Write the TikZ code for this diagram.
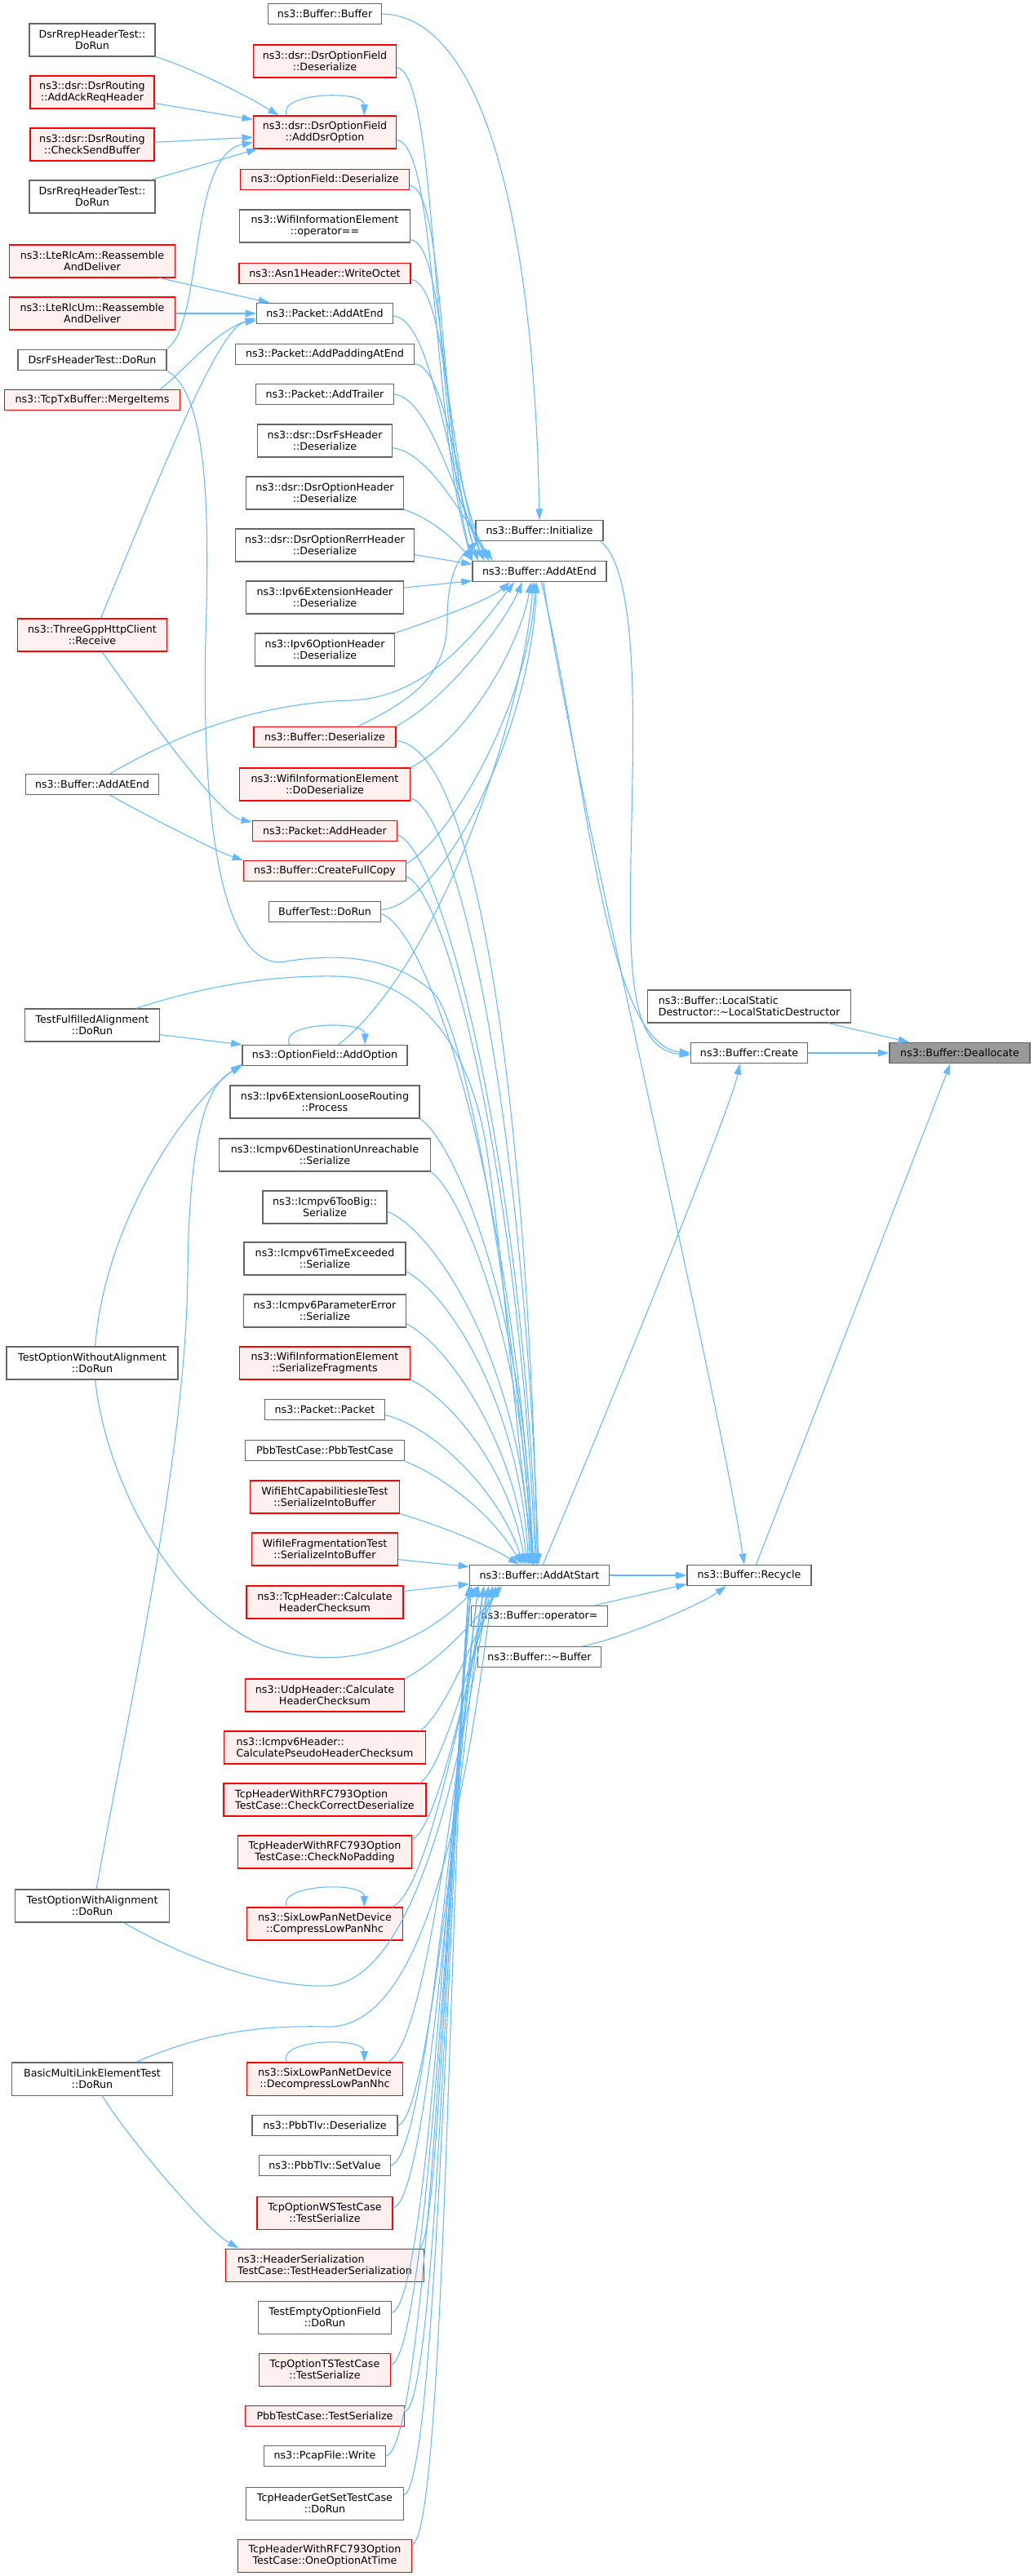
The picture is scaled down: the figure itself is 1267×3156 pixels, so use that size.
\documentclass[tikz,border=0pt]{standalone}
\usepackage{fontspec}
\setmainfont{DejaVu Sans}
\usepackage{xcolor}
\usepackage{tikz}
\usetikzlibrary{arrows.meta}
\definecolor{edgeblue}{HTML}{63B8FF}
\definecolor{boxgrey}{HTML}{666666}
\definecolor{boxred}{HTML}{FF0000}
\definecolor{fillred}{HTML}{FFF0F0}
\definecolor{fillsel}{HTML}{999999}

\begin{document}
\begin{tikzpicture}[x=0.75pt,y=0.75pt,yscale=-1,xscale=1,
  fn/.style={draw=boxgrey, line width=0.8pt, fill=white, inner sep=0pt, minimum height=19pt, align=center, font=\fontsize{9.5}{10.5}\selectfont},
  two/.style={minimum height=30pt},
  fnred/.style={fn, draw=boxred, fill=fillred},
  fnsel/.style={fn, fill=fillsel},
  wd/.style={minimum width=#1*0.75pt},
  callline/.style={draw=edgeblue, line width=0.8pt, -{Triangle[length=10pt,width=6.5pt]}}]
\useasboundingbox (0,0) rectangle (1267,3156);

% Nodes: left column
\node[fn, two, wd=154] (rrep) at (113,49) {DsrRrepHeaderTest::\\DoRun};
\node[fnred, two, wd=152] (ackreq) at (113,113) {ns3::dsr::DsrRouting\\::AddAckReqHeader};
\node[fnred, two, wd=152] (chksend) at (113,177) {ns3::dsr::DsrRouting\\::CheckSendBuffer};
\node[fn, two, wd=154] (rreq) at (113,241) {DsrRreqHeaderTest::\\DoRun};
\node[fnred, two, wd=203] (lteam) at (113,320) {ns3::LteRlcAm::Reassemble\\AndDeliver};
\node[fnred, two, wd=203] (lteum) at (113,384) {ns3::LteRlcUm::Reassemble\\AndDeliver};
\node[fn, wd=182] (fstest) at (113,441) {DsrFsHeaderTest::DoRun};
\node[fnred, wd=215] (merge) at (113,490) {ns3::TcpTxBuffer::MergeItems};
\node[fnred, two, wd=183] (http) at (113,778) {ns3::ThreeGppHttpClient\\::Receive};
\node[fn, wd=163] (addend2) at (113,961) {ns3::Buffer::AddAtEnd};
\node[fn, two, wd=165] (fulfilled) at (113,1256) {TestFulfilledAlignment\\::DoRun};
\node[fn, two, wd=210] (without) at (113,1670) {TestOptionWithoutAlignment\\::DoRun};
\node[fn, two, wd=189] (withal) at (113,2335) {TestOptionWithAlignment\\::DoRun};
\node[fn, two, wd=197] (multilink) at (113,2547) {BasicMultiLinkElementTest\\::DoRun};

% Nodes: middle column
\node[fn, wd=139] (bufbuf) at (398,17) {ns3::Buffer::Buffer};
\node[fnred, two, wd=175] (dsrdeser) at (398,75) {ns3::dsr::DsrOptionField\\::Deserialize};
\node[fnred, two, wd=175] (adddsr) at (398,162) {ns3::dsr::DsrOptionField\\::AddDsrOption};
\node[fnred, wd=207] (optdeser) at (398,220) {ns3::OptionField::Deserialize};
\node[fn, two, wd=209] (wifieq) at (398,277) {ns3::WifiInformationElement\\::operator==};
\node[fnred, wd=210] (asn) at (398,335) {ns3::Asn1Header::WriteOctet};
\node[fn, wd=167] (pktend) at (398,384) {ns3::Packet::AddAtEnd};
\node[fn, wd=219] (pad) at (398,434) {ns3::Packet::AddPaddingAtEnd};
\node[fn, wd=169] (trailer) at (398,483) {ns3::Packet::AddTrailer};
\node[fn, two, wd=165] (fsdeser) at (398,540) {ns3::dsr::DsrFsHeader\\::Deserialize};
\node[fn, two, wd=193] (ohdeser) at (398,604) {ns3::dsr::DsrOptionHeader\\::Deserialize};
\node[fn, two, wd=219] (rerr) at (398,668) {ns3::dsr::DsrOptionRerrHeader\\::Deserialize};
\node[fn, two, wd=193] (extdeser) at (398,732) {ns3::Ipv6ExtensionHeader\\::Deserialize};
\node[fn, two, wd=171] (ip6opt) at (398,796) {ns3::Ipv6OptionHeader\\::Deserialize};
\node[fnred, wd=174] (bufdeser) at (398,903) {ns3::Buffer::Deserialize};
\node[fnred, two, wd=209] (wifideser) at (398,961) {ns3::WifiInformationElement\\::DoDeserialize};
\node[fnred, wd=177] (addhdr) at (398,1018) {ns3::Packet::AddHeader};
\node[fnred, wd=199] (fullcopy) at (398,1067) {ns3::Buffer::CreateFullCopy};
\node[fn, wd=137] (buftest) at (398,1117) {BufferTest::DoRun};
\node[fn, wd=202] (addopt) at (398,1293) {ns3::OptionField::AddOption};
\node[fn, two, wd=232] (loose) at (398,1350) {ns3::Ipv6ExtensionLooseRouting\\::Process};
\node[fn, two, wd=259] (destun) at (398,1415) {ns3::Icmpv6DestinationUnreachable\\::Serialize};
\node[fn, two, wd=152] (toobig) at (398,1479) {ns3::Icmpv6TooBig::\\Serialize};
\node[fn, two, wd=198] (timeex) at (398,1542) {ns3::Icmpv6TimeExceeded\\::Serialize};
\node[fn, two, wd=199] (paramerr) at (398,1606) {ns3::Icmpv6ParameterError\\::Serialize};
\node[fnred, two, wd=209] (serfrag) at (398,1670) {ns3::WifiInformationElement\\::SerializeFragments};
\node[fn, wd=147] (pktpkt) at (398,1727) {ns3::Packet::Packet};
\node[fn, wd=195] (pbbcase) at (398,1777) {PbbTestCase::PbbTestCase};
\node[fnred, two, wd=183] (eht) at (398,1834) {WifiEhtCapabilitiesIeTest\\::SerializeIntoBuffer};
\node[fnred, two, wd=179] (iefrag) at (398,1898) {WifiIeFragmentationTest\\::SerializeIntoBuffer};
\node[fnred, two, wd=192] (tcpsum) at (398,1963) {ns3::TcpHeader::Calculate\\HeaderChecksum};
\node[fnred, two, wd=195] (udpsum) at (398,2077) {ns3::UdpHeader::Calculate\\HeaderChecksum};
\node[fnred, two, wd=247, align=left] (icmpsum) at (398,2141) {ns3::Icmpv6Header::\\CalculatePseudoHeaderChecksum};
\node[fnred, two, wd=248, align=left] (chkcorr) at (398,2205) {TcpHeaderWithRFC793Option\\TestCase::CheckCorrectDeserialize};
\node[fnred, two, wd=213] (chkpad) at (398,2269) {TcpHeaderWithRFC793Option\\TestCase::CheckNoPadding};
\node[fnred, two, wd=191] (compress) at (398,2357) {ns3::SixLowPanNetDevice\\::CompressLowPanNhc};
\node[fnred, two, wd=191] (decompress) at (398,2547) {ns3::SixLowPanNetDevice\\::DecompressLowPanNhc};
\node[fn, wd=178] (tlvdeser) at (398,2604) {ns3::PbbTlv::Deserialize};
\node[fn, wd=161] (tlvset) at (398,2653) {ns3::PbbTlv::SetValue};
\node[fnred, two, wd=166] (wstest) at (398,2711) {TcpOptionWSTestCase\\::TestSerialize};
\node[fnred, two, wd=243, align=left] (hdrser) at (398,2775) {ns3::HeaderSerialization\\TestCase::TestHeaderSerialization};
\node[fn, two, wd=163] (emptyopt) at (398,2839) {TestEmptyOptionField\\::DoRun};
\node[fnred, two, wd=161] (tstest) at (398,2903) {TcpOptionTSTestCase\\::TestSerialize};
\node[fnred, wd=195] (pbbser) at (398,2960) {PbbTestCase::TestSerialize};
\node[fn, wd=149] (pcap) at (398,3009) {ns3::PcapFile::Write};
\node[fn, two, wd=193] (getset) at (398,3067) {TcpHeaderGetSetTestCase\\::DoRun};
\node[fnred, two, wd=213] (oneopt) at (398,3131) {TcpHeaderWithRFC793Option\\TestCase::OneOptionAtTime};

% Nodes: right part
\node[fn, wd=156] (init) at (661,650) {ns3::Buffer::Initialize};
\node[fn, wd=164] (addend) at (661,700) {ns3::Buffer::AddAtEnd};
\node[fn, wd=171] (addstart) at (661,1930) {ns3::Buffer::AddAtStart};
\node[fn, wd=167] (opeq) at (661,1980) {ns3::Buffer::operator=};
\node[fn, wd=151] (dtor) at (661,2030) {ns3::Buffer::\textasciitilde Buffer};
\node[fn, two, wd=249, align=left] (localstatic) at (918,1233) {ns3::Buffer::LocalStatic\\Destructor::\textasciitilde LocalStaticDestructor};
\node[fn, wd=143] (create) at (918,1290) {ns3::Buffer::Create};
\node[fn, wd=152] (recycle) at (918,1930) {ns3::Buffer::Recycle};
\node[fnsel, wd=172] (dealloc) at (1176,1290) {ns3::Buffer::Deallocate};

%Straight Lines: callers of AddDsrOption
\draw[callline] (rrep.south east) .. controls +(40,12) and +(-40,-25) .. (adddsr.160);
\draw[callline] (ackreq.-10) -- (adddsr.170);
\draw[callline] (chksend.2) -- (adddsr.184);
\draw[callline] (rreq.16) -- (adddsr.194);
\draw[callline] (fstest.north east) .. controls (250,395) and (230,190) .. (adddsr.188);
\draw[callline] (adddsr.156) .. controls +(-15,-28) and +(0,-32) .. (adddsr.23);

%Straight Lines: callers of Packet::AddAtEnd and AddHeader
\draw[callline] (lteam.-14) -- (pktend.169);
\draw[callline] (lteum.east) -- (pktend.west);
\draw[callline] (merge.9) .. controls (223,457) and (264,405) .. (pktend.184);
\draw[callline] (http.63) .. controls (205,560) and (270,398) .. (pktend.186);
\draw[callline] (http.-60) .. controls (190,890) and (270,1000) .. (addhdr.173);

%Curves from the left column
\draw[callline] (addend2.31) .. controls (200,910) and (300,862) .. (430,858) .. controls (520,855) and (580,780) .. (addend.203);
\draw[callline] (addend2.-31) .. controls (190,1005) and (270,1045) .. (fullcopy.north west);
\draw[callline] (fulfilled.-8) -- (addopt.north west);
\draw[callline] (fulfilled.21) .. controls (260,1205) and (340,1195) .. (410,1196) .. controls (500,1197) and (570,1260) .. (595,1400) .. controls (615,1520) and (630,1750) .. (addstart.115);
\draw[callline] (without.80) .. controls (128,1500) and (225,1355) .. (addopt.186);
\draw[callline] (without.-80) .. controls (128,1800) and (200,1960) .. (320,2015) .. controls (400,2048) and (500,2030) .. (addstart.190);
\draw[callline] (withal.76) .. controls (160,2080) and (228,1780) .. (230,1560) .. controls (232,1400) and (250,1330) .. (addopt.south west);
\draw[callline] (withal.-28) .. controls (220,2395) and (320,2435) .. (400,2433) .. controls (500,2430) and (560,2200) .. (addstart.192);
\draw[callline] (multilink.-59) .. controls (150,2610) and (250,2730) .. (hdrser.169);
\draw[callline] (multilink.21) .. controls (250,2490) and (320,2481) .. (400,2483) .. controls (500,2486) and (560,2300) .. (addstart.193);
\draw[callline] (fstest.south east) .. controls (250,480) and (258,600) .. (252,780) .. controls (246,1040) and (280,1190) .. (350,1178) .. controls (410,1168) and (480,1170) .. (530,1215) .. controls (570,1251) and (630,1600) .. (addstart.120);

%Curves into Buffer::AddAtEnd
\draw[callline] (dsrdeser.-5) .. controls +(50,5) and +(-50,-200) .. (addend.171);
\draw[callline] (adddsr.-6) .. controls +(50,5) and +(-50,-170) .. (addend.171);
\draw[callline] (optdeser.-4) .. controls +(45,5) and +(-50,-150) .. (addend.170);
\draw[callline] (wifieq.-9) .. controls +(45,5) and +(-45,-130) .. (addend.170);
\draw[callline] (asn.-4) .. controls +(45,5) and +(-45,-115) .. (addend.169);
\draw[callline] (pktend.-2) .. controls +(50,5) and +(-45,-100) .. (addend.169);
\draw[callline] (pad.-6) .. controls +(40,5) and +(-40,-80) .. (addend.168);
\draw[callline] (trailer.east) .. controls +(45,5) and +(-40,-70) .. (addend.168);
\draw[callline] (fsdeser.-6) .. controls +(45,5) and +(-35,-50) .. (addend.167);
\draw[callline] (ohdeser.south east) .. controls (530,635) and (560,665) .. (addend.north west);
\draw[callline] (rerr.-6) -- (addend.174);
\draw[callline] (extdeser.7) -- (addend.188);
\draw[callline] (ip6opt.north east) .. controls (530,760) and (600,735) .. (addend.200);
\draw[callline] (bufdeser.north east) .. controls (550,855) and (620,760) .. (addend.212);
\draw[callline] (wifideser.north east) .. controls (580,900) and (640,780) .. (addend.231);
\draw[callline] (fullcopy.5) .. controls (560,1020) and (650,850) .. (addend.248);
\draw[callline] (buftest.2) .. controls (540,1110) and (650,900) .. (addend.255);
\draw[callline] (addopt.38) .. controls (540,1180) and (640,880) .. (addend.240);
\draw[callline] (addopt.163) .. controls +(-15,-28) and +(0,-30) .. (addopt.15);

%Curves into Buffer::Initialize
\draw[callline] (bufbuf.east) .. controls (600,20) and (655,300) .. (init.north);
\draw[callline] (bufdeser.18) .. controls (500,860) and (548,830) .. (548,760) .. controls (548,700) and (565,680) .. (init.190);

%Curves into Buffer::AddAtStart from above
\draw[callline] (bufdeser.-3) .. controls (580,915) and (645,1318) .. (addstart.100);
\draw[callline] (wifideser.-9) .. controls (563,997) and (642,1368) .. (addstart.95);
\draw[callline] (addhdr.-3) .. controls (542,1042) and (640,1420) .. (addstart.105);
\draw[callline] (fullcopy.-4) .. controls (548,1093) and (635,1440) .. (addstart.110);
\draw[callline] (buftest.-2) .. controls (528,1140) and (630,1470) .. (addstart.118);
\draw[callline] (loose.south east) .. controls +(40,25) and +(-8,-320) .. (addstart.123);
\draw[callline] (destun.south east) .. controls +(35,25) and +(-8,-280) .. (addstart.127);
\draw[callline] (toobig.-4) .. controls +(55,20) and +(-10,-250) .. (addstart.131);
\draw[callline] (timeex.-9) .. controls +(50,25) and +(-12,-200) .. (addstart.135);
\draw[callline] (paramerr.-9) .. controls +(50,25) and +(-15,-150) .. (addstart.139);
\draw[callline] (serfrag.south east) .. controls +(45,20) and +(-20,-120) .. (addstart.143);
\draw[callline] (pktpkt.-5) .. controls +(60,15) and +(-30,-90) .. (addstart.146);
\draw[callline] (pbbcase.south east) .. controls +(50,20) and +(-35,-60) .. (addstart.149);
\draw[callline] (eht.south east) .. controls +(50,15) and +(-40,-25) .. (addstart.152);
\draw[callline] (iefrag.-8) -- (addstart.173);
\draw[callline] (tcpsum.8) -- (addstart.187);

%Curves into Buffer::AddAtStart from below
\draw[callline] (udpsum.north east) .. controls +(40,-20) and +(-30,40) .. (addstart.196);
\draw[callline] (icmpsum.10) .. controls +(30,-20) and +(-30,60) .. (addstart.195);
\draw[callline] (chkcorr.10) .. controls +(30,-20) and +(-30,80) .. (addstart.194);
\draw[callline] (chkpad.8) .. controls +(35,-20) and +(-30,100) .. (addstart.193);
\draw[callline] (compress.14) .. controls +(45,-20) and +(-30,130) .. (addstart.192);
\draw[callline] (compress.156) .. controls +(-15,-28) and +(0,-32) .. (compress.23);
\draw[callline] (decompress.15) .. controls +(50,-20) and +(-30,180) .. (addstart.191);
\draw[callline] (decompress.156) .. controls +(-15,-28) and +(0,-32) .. (decompress.23);
\draw[callline] (tlvdeser.east) .. controls +(40,-10) and +(-28,200) .. (addstart.191);
\draw[callline] (tlvset.east) .. controls +(45,-10) and +(-28,220) .. (addstart.190);
\draw[callline] (wstest.4) .. controls +(45,-10) and +(-28,240) .. (addstart.190);
\draw[callline] (hdrser.10) .. controls +(25,-20) and +(-26,260) .. (addstart.189);
\draw[callline] (emptyopt.4) .. controls +(45,-10) and +(-26,280) .. (addstart.189);
\draw[callline] (tstest.4) .. controls +(45,-12) and +(-25,300) .. (addstart.189);
\draw[callline] (pbbser.3) .. controls +(40,-12) and +(-25,320) .. (addstart.188);
\draw[callline] (pcap.east) .. controls +(50,-12) and +(-25,340) .. (addstart.188);
\draw[callline] (getset.6) .. controls +(40,-15) and +(-25,360) .. (addstart.188);
\draw[callline] (oneopt.7) .. controls +(40,-15) and +(-25,380) .. (addstart.188);

%Straight Lines: right part
\draw[callline] (addend.-80) .. controls (720,950) and (740,1280) .. (create.west);
\draw[callline] (addend.-70) .. controls (700,950) and (880,1700) .. (recycle.115);
\draw[callline] (init.-10) .. controls (770,690) and (778,800) .. (775,950) .. controls (772,1150) and (760,1285) .. (create.182);
\draw[callline] (addstart.72) .. controls (740,1740) and (895,1360) .. (create.229);
\draw[callline] (addstart.east) -- (recycle.west);
\draw[callline] (opeq.11) -- (recycle.188);
\draw[callline] (dtor.14) .. controls +(50,-10) and +(-30,22) .. (recycle.205);
\draw[callline] (create.east) -- (dealloc.west);
\draw[callline] (localstatic.-12) -- (dealloc.168);
\draw[callline] (recycle.57) -- (dealloc.229);
\end{tikzpicture}
\end{document}
